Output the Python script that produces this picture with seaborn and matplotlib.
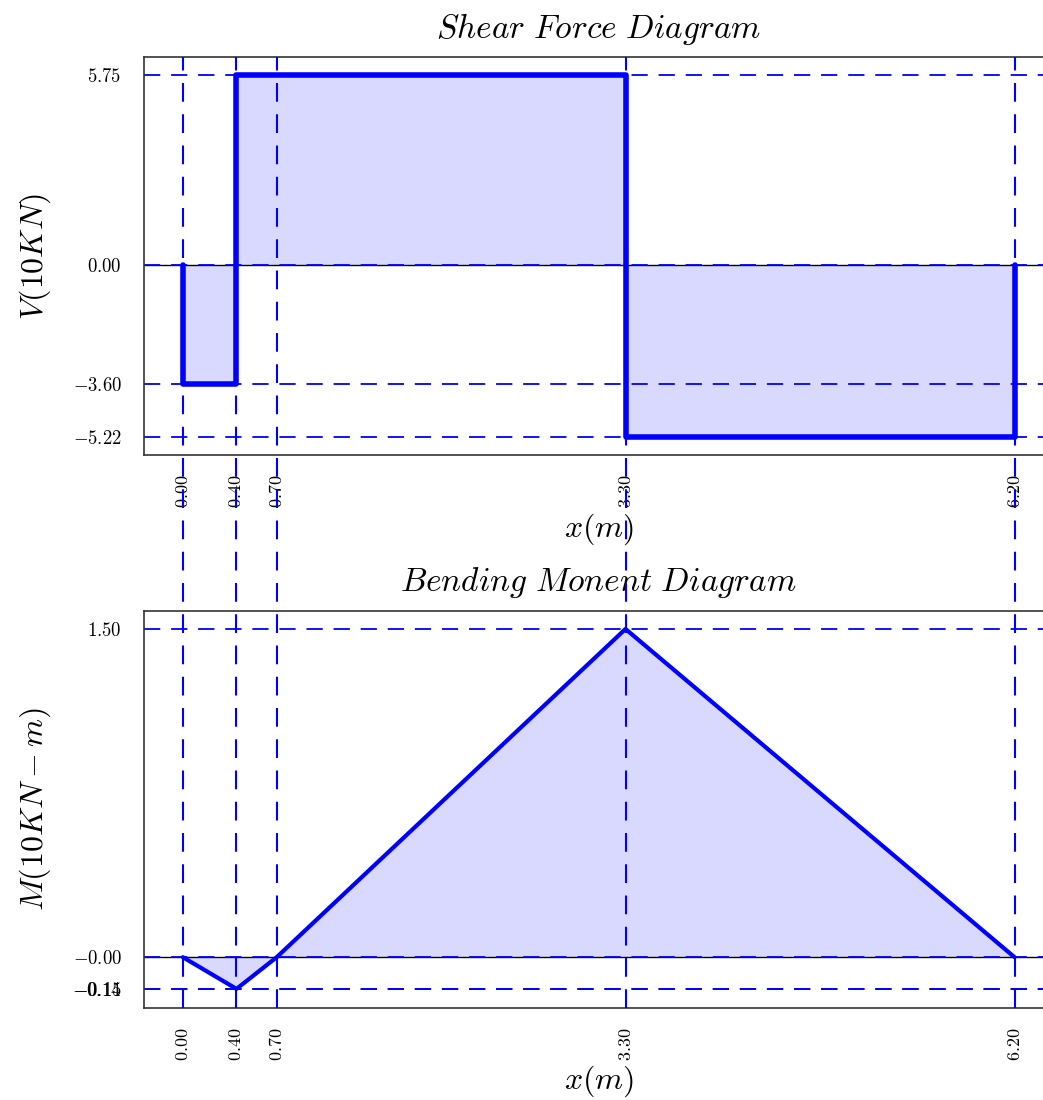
import numpy as np
import pandas as pd
import matplotlib
matplotlib.use("Agg")
import matplotlib.pyplot as plt
import matplotlib.transforms as mtransforms
from matplotlib.lines import Line2D
import seaborn as sns

# ---- data ----
shear_x = [0.0, 0.0, 0.4, 0.4, 3.3, 3.3, 6.2, 6.2]
shear_v = [0.0, -3.6, -3.6, 5.75, 5.75, -5.22, -5.22, 0.0]
moment_x = [0.0, 0.4, 0.7, 3.3, 6.2]
moment_m = [0.0, -0.145, 0.0, 1.5, 0.0]
key_x = [0.0, 0.4, 0.7, 3.3, 6.2]
key_x_labels = ["0.00", "0.40", "0.70", "3.30", "6.20"]
shear_ticks = [5.75, 0.0, -3.6, -5.22]
shear_tick_labels = ["5.75", "0.00", "-3.60", "-5.22"]
moment_ticks = [1.5, 0.0, -0.144, -0.146]
moment_tick_labels = ["1.50", "-0.00", "-0.14", "-0.15"]

sns.set_style("white")
plt.rcParams["mathtext.fontset"] = "cm"
plt.rcParams["font.family"] = ["DejaVu Serif"]
for k in ("text.color", "axes.labelcolor", "xtick.color", "ytick.color"):
    plt.rcParams[k] = "black"

fig = plt.figure(figsize=(10.43, 11.0), dpi=100)
ax1 = fig.add_axes([0.138, 0.586, 0.872, 0.362])
ax2 = fig.add_axes([0.138, 0.0836, 0.872, 0.361])

fill_c = (0.0, 0.0, 1.0, 0.15)
blue = "#0000ff"

def mt(s):
    return r"$" + s + r"$"

# Shear
df_v = pd.DataFrame({"x": shear_x, "V": shear_v})
ax1.fill_between(df_v["x"], df_v["V"], 0, color=fill_c, lw=0)
ax1.axhline(0, color="black", lw=1.0, zorder=1)
for t in shear_ticks:
    ax1.axhline(t, color=blue, lw=1.3, ls=(0, (9, 6)), zorder=2)
sns.lineplot(data=df_v, x="x", y="V", ax=ax1, sort=False, estimator=None,
             color=blue, lw=4, zorder=5)
ax1.set_xlim(-0.29, 6.49)
ax1.set_ylim(-5.77, 6.30)
ax1.set_yticks(shear_ticks)
ax1.set_yticklabels([mt(s) for s in shear_tick_labels], fontsize=13.5)
ax1.set_xticks(key_x)
ax1.set_xticklabels([mt(s) for s in key_x_labels], rotation=90, fontsize=13)
ax1.set_title(mt(r"Shear\ Force\ Diagram"), fontsize=24, pad=14)
ax1.set_ylabel(mt(r"V(10KN)"), fontsize=23, labelpad=14)
ax1.set_xlabel(mt(r"x(m)"), fontsize=23, labelpad=2)

# Moment
df_m = pd.DataFrame({"x": moment_x, "M": moment_m})
ax2.fill_between(df_m["x"], df_m["M"], 0, color=fill_c, lw=0)
ax2.axhline(0, color="black", lw=1.0, zorder=1)
for t in moment_ticks:
    ax2.axhline(t, color=blue, lw=1.3, ls=(0, (9, 6)), zorder=2)
sns.lineplot(data=df_m, x="x", y="M", ax=ax2, sort=False, estimator=None,
             color=blue, lw=3, zorder=5)
ax2.set_xlim(-0.29, 6.49)
ax2.set_ylim(-0.2325, 1.5825)
ax2.set_yticks(moment_ticks)
ax2.set_yticklabels([mt(s) for s in moment_tick_labels], fontsize=13.5)
ax2.set_xticks(key_x)
ax2.set_xticklabels([mt(s) for s in key_x_labels], rotation=90, fontsize=13)
ax2.set_title(mt(r"Bending\ Monent\ Diagram"), fontsize=24, pad=14)
ax2.set_ylabel(mt(r"M(10KN-m)"), fontsize=23, labelpad=14)
ax2.set_xlabel(mt(r"x(m)"), fontsize=23, labelpad=2)

for ax in (ax1, ax2):
    ax.tick_params(axis="both", length=0)
    ax.tick_params(axis="y", pad=16)
    ax.tick_params(axis="x", pad=14)
    for sp in ax.spines.values():
        sp.set_color("#333333")
        sp.set_linewidth(1.2)

# Vertical dashed lines spanning both panels
trans = mtransforms.blended_transform_factory(ax1.transData, fig.transFigure)
for xv in key_x:
    ln = Line2D([xv, xv], [0.0836, 0.948], transform=trans, color=blue,
                lw=1.5, ls=(0, (9, 6)), zorder=10, clip_on=False)
    fig.add_artist(ln)

fig.savefig("out.png", dpi=100)
